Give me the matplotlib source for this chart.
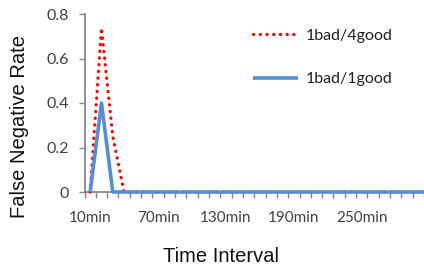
import numpy as np
import matplotlib.pyplot as plt

# categories every 10 min, 10min .. 310min (last one runs off the right edge)
minutes = list(range(10, 320, 10))
labels = ['%dmin' % m for m in minutes]
bad4good = [0, 0.737, 0.25] + [0] * 28
bad1good = [0, 0.40] + [0] * 29

grey = '#868686'
tickfont = 'Lato'
titlefont = 'Liberation Sans'

fig = plt.figure(figsize=(4.24, 2.68), dpi=100)
ax = fig.add_axes([84.5 / 424, 1 - 192 / 268, 1 - 84.5 / 424, 178 / 268])

x = np.arange(len(minutes))
ax.plot(x, bad4good, color='#FF0000', lw=2.3, linestyle=(0, (0.1, 2.0)),
        dash_capstyle='round', label='1bad/4good', zorder=3, clip_on=False)
ax.plot(x, bad1good, color='#558ED5', lw=2.6, label='1bad/1good', zorder=4,
        solid_capstyle='butt', clip_on=False)

ax.set_ylim(0, 0.8)
ax.set_xlim(-0.5, 29.23)
ax.set_yticks([0, 0.2, 0.4, 0.6, 0.8])
ax.set_yticklabels(['0', '0.2', '0.4', '0.6', '0.8'], fontfamily=tickfont, fontsize=11.5, color='#404040')

ax.set_xticks(x[:30:6])
ax.set_xticklabels(labels[:30:6], fontfamily=tickfont, fontsize=11, color='#404040')
ax.set_xticks(np.arange(-0.5, 29.6, 1.0), minor=True)
ax.tick_params(axis='x', which='major', length=0, pad=14)
ax.tick_params(axis='x', which='minor', length=4, width=1.0, color=grey, direction='out')
ax.tick_params(axis='y', length=4, width=1.0, color=grey, direction='out', pad=7.5)

for s in ['top', 'right']:
    ax.spines[s].set_visible(False)
for s in ['left', 'bottom']:
    ax.spines[s].set_color(grey)
    ax.spines[s].set_linewidth(1.3)

leg = ax.legend(loc='upper left', bbox_to_anchor=(0.455, 1.0), frameon=False,
                prop={'family': tickfont, 'size': 11.5}, handlelength=2.8,
                labelspacing=1.85, handletextpad=0.5)
for t in leg.get_texts():
    t.set_color('#202020')

fig.text(20 / 424, 1 - 126 / 268, 'False Negative Rate', rotation=90, ha='center', va='center',
         fontfamily=titlefont, fontsize=14.5, color='#111111')
fig.text(221 / 424, 1 - 256 / 268, 'Time Interval', ha='center', va='center',
         fontfamily=titlefont, fontsize=14.5, color='#111111')

fig.savefig('out.png', dpi=100)
